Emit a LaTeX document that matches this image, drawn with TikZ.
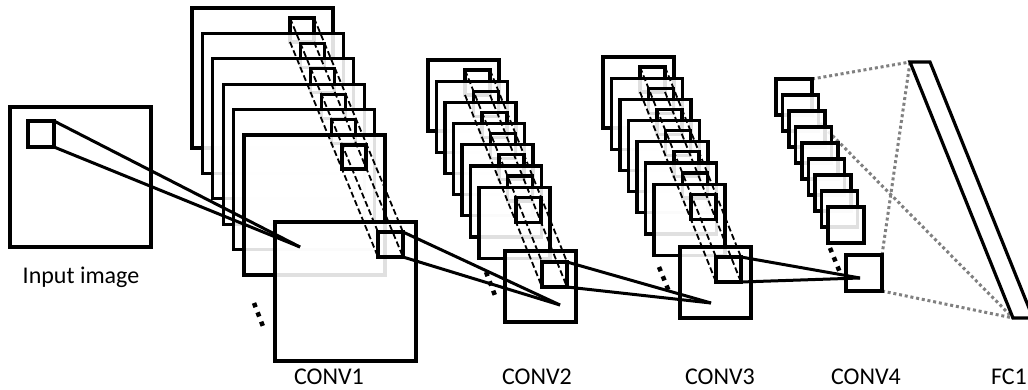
\documentclass[tikz,border=0pt]{standalone}
\usepackage{fontspec}
\setmainfont{Carlito}
\usetikzlibrary{positioning,backgrounds}
\begin{document}
\begin{tikzpicture}[
    x=1pt, y=-1pt,
    fmap/.style={draw, line width=3.2pt, fill=white, fill opacity=0.88,
      inner sep=0pt, outer sep=0pt, anchor=north west},
    big/.style={fmap, minimum width=141pt, minimum height=140pt},
    mid/.style={fmap, minimum width=71pt, minimum height=71pt},
    tiny/.style={fmap, minimum width=36pt, minimum height=36pt},
    kern/.style={draw, line width=3.2pt, inner sep=0pt, outer sep=0pt, minimum size=#1},
    kern/.default=25pt,
    tube/.style={line width=1.8pt, dash pattern=on 6pt off 3pt},
    link/.style={line width=3pt},
    fclink/.style={draw=gray, line width=3pt, dash pattern=on 3pt off 2.8pt},
    more/.style={line width=4.5pt, dash pattern=on 4.5pt off 5.5pt},
    lbl/.style={font=\fontsize{24}{28}\selectfont, anchor=base},
  ]
  \useasboundingbox (0,0) rectangle (1028,390);
  % Input image
  \node[big, minimum height=140pt] (in) at (10,107) {};
  \node[kern=26pt, below right=14pt and 18pt of in.north west] (ink) {};
  \node[lbl] (lin) at (81,283) {Input image};
  % CONV1: six maps behind, one in front
  \foreach \i in {1,...,6} {
    \node[big] (c1s\i) at ({192+10.4*(\i-1)}, {8+25.4*(\i-1)}) {};
    \node[kern=24pt, below right=10pt and 98pt of c1s\i.north west] (c1k\i) {};
  }
  \node[big, minimum height=139pt] (c1f) at (275,222) {};
  \node[kern, below right=10pt and 103pt of c1f.north west] (c1fk) {};
  \draw[more] (254,303) -- (264,329);
  \foreach \c in {north west, south west, north east, south east}
    \draw[tube] (c1k1.\c) -- (c1fk.\c);
  \coordinate (c1p) at (300,247);
  \foreach \c in {north east, south east}
    \draw[link] (ink.\c) -- (c1p);
  \node[lbl] (l1) at (329,384) {CONV1};
  % CONV2: seven maps behind
  \foreach \i in {1,...,7} {
    \node[mid] (c2s\i) at ({428+8.5*(\i-1)}, {60+21.2*(\i-1)}) {};
    \node[kern, below right=10pt and 37pt of c2s\i.north west] (c2k\i) {};
  }
  \node[mid] (c2f) at (505,251) {};
  \node[kern, below right=11pt and 37pt of c2f.north west] (c2fk) {};
  \draw[more] (486,272) -- (496,298);
  \foreach \c in {north west, south west, north east, south east}
    \draw[tube] (c2k1.\c) -- (c2fk.\c);
  \coordinate (c2p) at (560,305);
  \foreach \c in {north east, south east}
    \draw[link] (c1fk.\c) -- (c2p);
  \node[lbl] (l2) at (537,384) {CONV2};
  % CONV3: seven maps behind
  \foreach \i in {1,...,7} {
    \node[mid] (c3s\i) at ({603+8.5*(\i-1)}, {57+21.2*(\i-1)}) {};
    \node[kern, below right=10pt and 37pt of c3s\i.north west] (c3k\i) {};
  }
  \node[mid] (c3f) at (680,247) {};
  \node[kern, below right=10pt and 36pt of c3f.north west] (c3fk) {};
  \draw[more] (659,267) -- (670,294);
  \foreach \c in {north west, south west, north east, south east}
    \draw[tube] (c3k1.\c) -- (c3fk.\c);
  \coordinate (c3p) at (711,303);
  \foreach \c in {north east, south east}
    \draw[link] (c2fk.\c) -- (c3p);
  \node[lbl] (l3) at (720,384) {CONV3};
  % CONV4: nine maps behind, no windows
  \foreach \i in {1,...,9}
    \node[tiny] (c4s\i) at ({776+6.5*(\i-1)}, {79+16*(\i-1)}) {};
  \node[tiny] (c4f) at (846,255) {};
  \draw[more] (830,248) -- (841,275);
  \coordinate (c4p) at (860,278);
  \foreach \c in {north east, south east}
    \draw[link] (c3fk.\c) -- (c4p);
  \node[lbl] (l4) at (866,384) {CONV4};
  % FC1 bar
  \coordinate (fctl) at (910,62);
  \coordinate (fctr) at (930,62);
  \coordinate (fcbr) at (1033,318);
  \coordinate (fcbl) at (1013,318);
  \draw[line width=3.2pt] (fctl) -- (fctr) -- (fcbr) -- (fcbl) -- cycle;
  \begin{scope}[on background layer]
    \draw[fclink] (c4s1.north east) -- (fctl);
    \draw[fclink] (c4s1.south east) -- (fcbl);
    \draw[fclink] (c4f.north east) -- (fctl);
    \draw[fclink] (c4f.south east) -- (fcbl);
  \end{scope}
  \node[lbl, anchor=base east, inner sep=0pt] (l5) at (1027,384) {FC1};
\end{tikzpicture}
\end{document}
